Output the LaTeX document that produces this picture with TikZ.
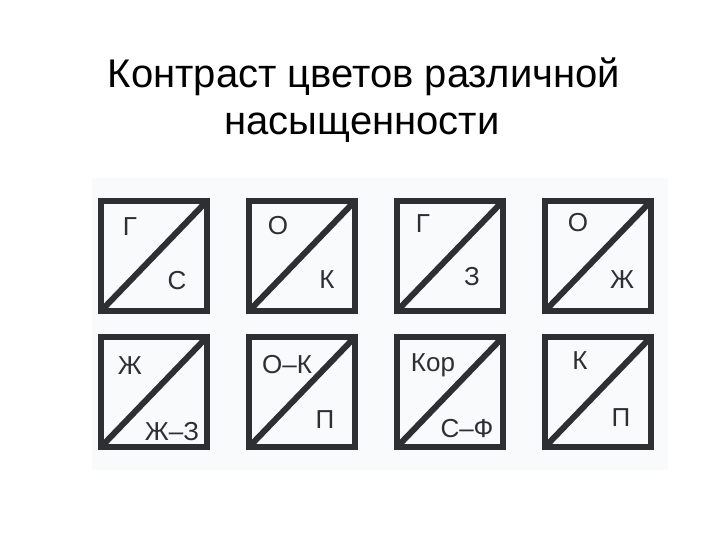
\documentclass[tikz,border=0pt]{standalone}
\usepackage{fontspec}
\setmainfont{Liberation Sans}
\usetikzlibrary{positioning}
\definecolor{inkgray}{RGB}{45,48,50}
\definecolor{scantint}{RGB}{249,250,251}

\begin{document}
\begin{tikzpicture}[
    x=1pt, y=-1pt,
    node distance=26pt and 42pt,
    cell/.style={draw=inkgray, line width=6pt, minimum width=106pt, minimum height=110pt, inner sep=0pt, outer sep=0pt},
    split/.style={draw=inkgray, line width=6pt},
    letter/.style={font=\fontsize{26}{26}\selectfont, text=inkgray, inner sep=0pt, anchor=base},
    heading/.style={font=\fontsize{40}{46}\selectfont, inner sep=0pt, anchor=base}
]
    \useasboundingbox (0,0) rectangle (720,540);
    \fill[scantint] (92,178) rectangle (668,470);

    % Title
    \node[heading] (title1) at (364,88) {Контраст цветов различной};
    \node[heading] (title2) at (362,135) {насыщенности};

    % Squares, top row
    \node[cell] (g1) at (154,256) {};
    \node[cell, right=of g1] (g2) {};
    \node[cell, right=of g2] (g3) {};
    \node[cell, right=of g3] (g4) {};
    % Squares, bottom row
    \node[cell, below=of g1] (g5) {};
    \node[cell, right=of g5] (g6) {};
    \node[cell, right=of g6] (g7) {};
    \node[cell, right=of g7] (g8) {};

    % Diagonals
    \draw[split] (g1.south west) -- (g1.north east);
    \draw[split] (g2.south west) -- (g2.north east);
    \draw[split] (g3.south west) -- (g3.north east);
    \draw[split] (g4.south west) -- (g4.north east);
    \draw[split] (g5.south west) -- (g5.north east);
    \draw[split] (g6.south west) -- (g6.north east);
    \draw[split] (g7.south west) -- (g7.north east);
    \draw[split] (g8.south west) -- (g8.north east);

    % Labels
    \node[letter] (t1) at (130,236) {Г};
    \node[letter] (b1) at (177,289) {С};
    \node[letter] (t2) at (278,234) {О};
    \node[letter] (b2) at (327,288) {К};
    \node[letter] (t3) at (423,233) {Г};
    \node[letter] (b3) at (472,285) {З};
    \node[letter] (t4) at (578,232) {О};
    \node[letter] (b4) at (622,288) {Ж};
    \node[letter] (t5) at (130,374) {Ж};
    \node[letter] (b5) at (172,440) {Ж–З};
    \node[letter] (t6) at (287,373) {О–К};
    \node[letter] (b6) at (325,428) {П};
    \node[letter] (t7) at (433,371) {Кор};
    \node[letter] (b7) at (467,437) {С–Ф};
    \node[letter] (t8) at (580,369) {К};
    \node[letter] (b8) at (621,426) {П};
\end{tikzpicture}
\end{document}
